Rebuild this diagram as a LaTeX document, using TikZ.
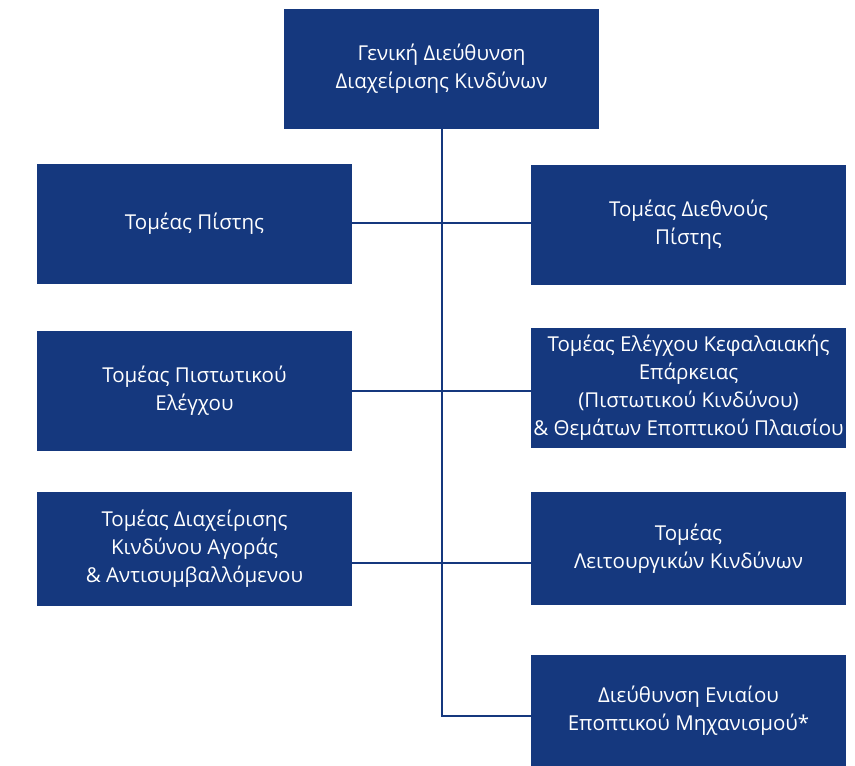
\documentclass[tikz,border=0pt]{standalone}
\usepackage{fontspec}
\setmainfont{Open Sans}
\usepackage{xcolor}
\definecolor{riskblue}{HTML}{15387E}

\begin{document}
\begin{tikzpicture}[x=1pt,y=-1pt,
  unit/.style={fill=riskblue,text=white,minimum width=315pt,minimum height=120pt,
    align=center,inner sep=0pt,font=\fontsize{20.5}{28}\selectfont},
  link/.style={draw=riskblue,line width=2pt}]
\useasboundingbox (0,0) rectangle (855,766);

% head
\node[unit] (head) at (441.5,69) {Γενική Διεύθυνση\\Διαχείρισης Κινδύνων};

% left column
\node[unit] (credit) at (194.5,224) {Τομέας Πίστης};
\node[unit] (control) at (194.5,391) {Τομέας Πιστωτικού\\Ελέγχου};
\node[unit,minimum height=114pt] (market) at (194.5,549) {Τομέας Διαχείρισης\\Κινδύνου Αγοράς\\\& Αντισυμβαλλόμενου};

% right column
\node[unit] (intl) at (688.5,224.5) {Τομέας Διεθνούς\\Πίστης};
\node[unit] (capital) at (688.5,388) {Τομέας Ελέγχου Κεφαλαιακής\\Επάρκειας\\(Πιστωτικού Κινδύνου)\\\& Θεμάτων Εποπτικού Πλαισίου};
\node[unit,minimum height=113pt] (oper) at (688.5,548.5) {Τομέας\\Λειτουργικών Κινδύνων};
\node[unit,minimum height=111pt] (ssm) at (688.5,710.5) {Διεύθυνση Ενιαίου\\Εποπτικού Μηχανισμού*};

% connectors
\draw[link] (head.south) |- ([yshift=-5.5pt]ssm.west);
\draw[link] ([yshift=1.3pt]credit.east) -- ([yshift=1.3pt]credit.east -| intl.west);
\draw[link] (control.east) -- (control.east -| capital.west);
\draw[link] ([yshift=-14pt]market.east) -- ([yshift=-14pt]market.east -| oper.west);

\end{tikzpicture}
\end{document}
